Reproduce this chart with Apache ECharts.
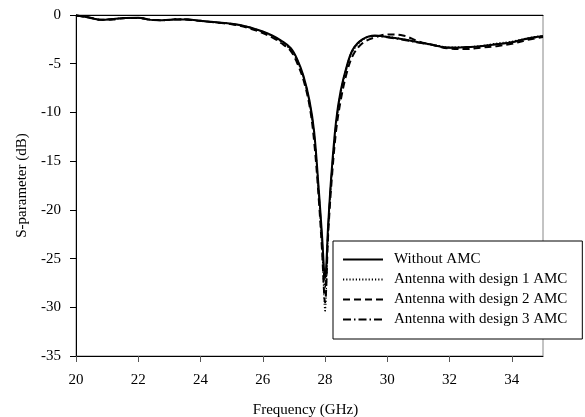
<!DOCTYPE html>
<html>
<head>
<meta charset="utf-8">
<script src="https://cdn.jsdelivr.net/npm/echarts@6/dist/echarts.min.js"></script>
<style>html,body{margin:0;padding:0;background:#fff}#c{width:585px;height:417px}</style>
</head>
<body>
<div id="c"></div>
<script>
var freq = [20, 20.4, 20.8, 21.2, 21.6, 22, 22.4, 22.8, 23.2, 23.6, 24, 24.5, 25, 25.5, 26, 26.3, 26.6, 26.9, 27.1, 27.3, 27.5, 27.65, 27.8, 27.9, 28, 28.1, 28.2, 28.35, 28.5, 28.7, 28.9, 29.2, 29.6, 30, 30.5, 31, 31.5, 32, 32.5, 33, 33.5, 34, 34.5, 35];

var withoutAMC = [-0.05, -0.25, -0.5, -0.42, -0.3, -0.27, -0.5, -0.55, -0.45, -0.45, -0.6, -0.75, -0.9, -1.2, -1.7, -2.1, -2.65, -3.4, -4.5, -6.2, -8.8, -12, -18, -22.5, -27, -21.5, -16.5, -11, -7.8, -5.2, -3.5, -2.5, -2.1, -2.25, -2.5, -2.8, -3.1, -3.35, -3.3, -3.2, -3.0, -2.8, -2.4, -2.15];

var design1 = [-0.05, -0.25, -0.48, -0.42, -0.32, -0.28, -0.48, -0.55, -0.45, -0.47, -0.62, -0.75, -0.92, -1.25, -1.75, -2.2, -2.8, -3.6, -4.7, -6.4, -9.1, -12.5, -18.8, -24, -30.5, -22.5, -17, -11.5, -8.2, -5.5, -3.7, -2.6, -2.15, -2.2, -2.45, -2.75, -3.05, -3.3, -3.3, -3.15, -2.9, -2.7, -2.35, -2.1];

var design2 = [-0.05, -0.22, -0.5, -0.45, -0.3, -0.3, -0.5, -0.52, -0.45, -0.48, -0.6, -0.78, -0.95, -1.3, -1.85, -2.3, -2.9, -3.7, -4.9, -6.6, -9.3, -13, -19, -24, -29.5, -22.5, -17.5, -12, -8.8, -5.9, -4.1, -2.9, -2.3, -2.0, -2.1, -2.7, -3.1, -3.45, -3.5, -3.35, -3.2, -2.95, -2.55, -2.25];

var design3 = [-0.05, -0.25, -0.5, -0.4, -0.3, -0.3, -0.48, -0.55, -0.42, -0.45, -0.62, -0.76, -0.9, -1.22, -1.72, -2.15, -2.7, -3.5, -4.6, -6.3, -9.0, -12.3, -18.3, -23, -28, -21.8, -16.8, -11.3, -8.0, -5.3, -3.5, -2.5, -2.15, -2.3, -2.55, -2.85, -3.1, -3.35, -3.3, -3.2, -3.0, -2.8, -2.45, -2.2];

var seriesNames = ['Without AMC', 'Antenna with design 1 AMC', 'Antenna with design 2 AMC', 'Antenna with design 3 AMC'];

function pairs(vals) { return freq.map(function (f, i) { return [f, vals[i]]; }); }

var font = 'Liberation Serif, Times New Roman, serif';
var chart = echarts.init(document.getElementById('c'));
chart.setOption({
  animation: false,
  backgroundColor: '#fff',
  color: ['#000', '#000', '#000', '#000'],
  grid: { left: 76, right: 42, top: 15, bottom: 61, show: true, borderColor: '#888', borderWidth: 1,
          containLabel: false, outerBoundsMode: 'none' },
  xAxis: [{
    type: 'value', min: 20, max: 35, interval: 2,
    name: 'Frequency (GHz)', nameLocation: 'middle', nameGap: 47,
    nameTextStyle: { fontFamily: font, fontSize: 15, color: '#000', padding: [0, 8, 0, 0] },
    axisLine: { onZero: false, lineStyle: { color: '#000', width: 1 } },
    axisTick: { show: true, inside: false, length: 6, lineStyle: { color: '#555' } },
    axisLabel: { fontFamily: font, fontSize: 15, color: '#000', margin: 17, showMaxLabel: false },
    splitLine: { show: false }
  }, {
    type: 'value', min: 20, max: 35, position: 'top',
    axisLine: { show: true, onZero: false, lineStyle: { color: '#000', width: 1 } },
    axisTick: { show: false }, axisLabel: { show: false }, splitLine: { show: false }
  }],
  yAxis: {
    type: 'value', min: -35, max: 0, interval: 5,
    name: 'S-parameter (dB)', nameLocation: 'middle', nameGap: 46,
    nameTextStyle: { fontFamily: font, fontSize: 15, color: '#000' },
    axisLine: { show: true, onZero: false, lineStyle: { color: '#000', width: 1 } },
    axisTick: { show: true, inside: false, length: 6, lineStyle: { color: '#000' } },
    axisLabel: { fontFamily: font, fontSize: 15, color: '#000', margin: 15 },
    splitLine: { show: false }
  },
  legend: {
    orient: 'vertical', left: 333, top: 241, z: 10,
    data: seriesNames,
    itemWidth: 40, itemHeight: 14, itemGap: 5,
    padding: [11, 15, 12, 9],
    backgroundColor: '#fff', borderColor: '#000', borderWidth: 1,
    itemStyle: { opacity: 0 },
    textStyle: { fontFamily: font, fontSize: 15, color: '#000', padding: [0, 0, 0, 6] }
  },
  series: [
    { name: seriesNames[3], type: 'line', data: pairs(design3), showSymbol: false, symbol: 'none', smooth: 0.35,
      itemStyle: { color: '#000' },
      lineStyle: { color: '#000', width: 1.6, type: [8, 3, 1.5, 3] } },
    { name: seriesNames[2], type: 'line', data: pairs(design2), showSymbol: false, symbol: 'none', smooth: 0.35,
      itemStyle: { color: '#000' },
      lineStyle: { color: '#000', width: 2, type: [7, 4] } },
    { name: seriesNames[1], type: 'line', data: pairs(design1), showSymbol: false, symbol: 'none', smooth: 0.35,
      itemStyle: { color: '#000' },
      lineStyle: { color: '#000', width: 1.2, type: [1.2, 2] } },
    { name: seriesNames[0], type: 'line', data: pairs(withoutAMC), showSymbol: false, symbol: 'none', smooth: 0.35,
      itemStyle: { color: '#000' },
      lineStyle: { color: '#000', width: 2, type: 'solid' } }
  ]
});
</script>
</body>
</html>
